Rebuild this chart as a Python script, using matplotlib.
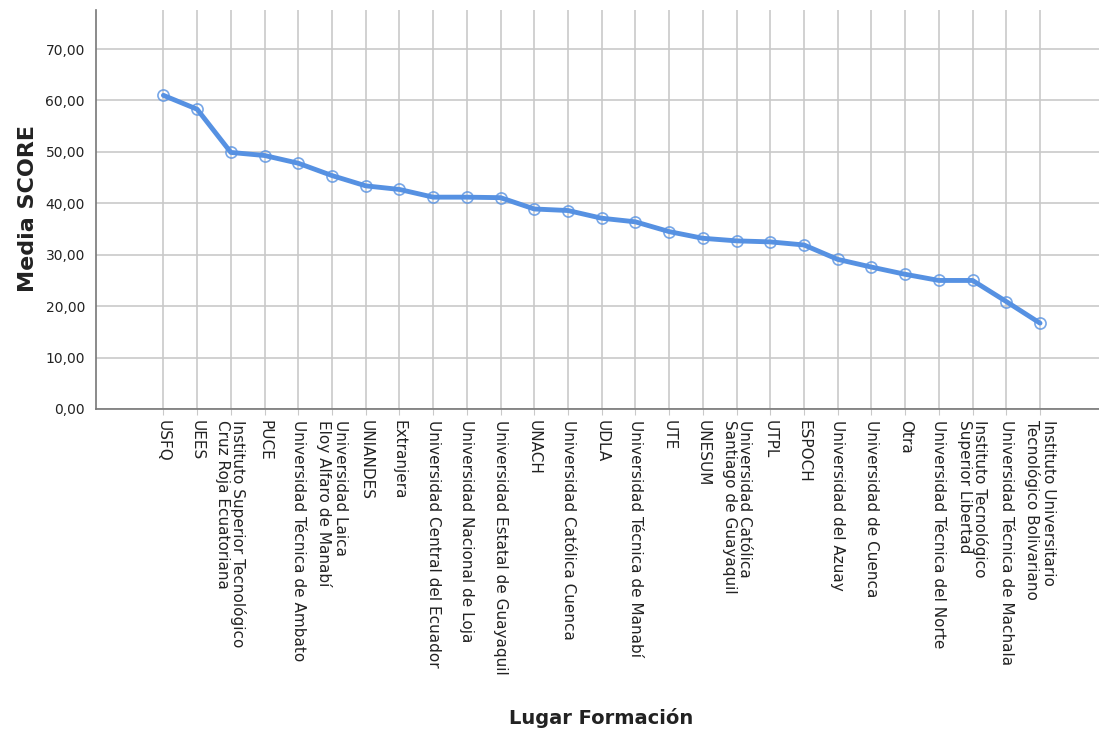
import matplotlib
matplotlib.use("Agg")
import matplotlib.pyplot as plt
from matplotlib.ticker import FuncFormatter

# mean SCORE per place of training
lugares = [
    "USFQ",
    "UEES",
    "Instituto Superior Tecnológico\nCruz Roja Ecuatoriana",
    "PUCE",
    "Universidad Técnica de Ambato",
    "Universidad Laica\nEloy Alfaro de Manabí",
    "UNIANDES",
    "Extranjera",
    "Universidad Central del Ecuador",
    "Universidad Nacional de Loja",
    "Universidad Estatal de Guayaquil",
    "UNACH",
    "Universidad Católica Cuenca",
    "UDLA",
    "Universidad Técnica de Manabí",
    "UTE",
    "UNESUM",
    "Universidad Católica\nSantiago de Guayaquil",
    "UTPL",
    "ESPOCH",
    "Universidad del Azuay",
    "Universidad de Cuenca",
    "Otra",
    "Universidad Técnica del Norte",
    "Instituto Tecnológico\nSuperior Libertad",
    "Universidad Técnica de Machala",
    "Instituto Universitario\nTecnológico Bolivariano",
]
media_score = [61.0, 58.3, 49.9, 49.3, 47.8, 45.4, 43.4, 42.7, 41.2, 41.2, 41.1,
               38.9, 38.6, 37.1, 36.4, 34.5, 33.2, 32.7, 32.5, 31.9, 29.1, 27.6,
               26.2, 25.0, 25.0, 20.9, 16.7]
y_ticks = [0, 10, 20, 30, 40, 50, 60, 70]

LINE = "#5691e2"
GRID = "#c9c9c9"
TXT = "#222222"

fig = plt.figure(figsize=(10.99, 7.34), dpi=100)
ax = fig.add_axes([96 / 1099, 325 / 734, 1 - 96 / 1099, 399 / 734])

x = list(range(len(lugares)))
ax.plot(x, media_score, color=LINE, lw=3.5, solid_capstyle="round", zorder=3)
ax.plot(x, media_score, "o", ms=8, mfc="none", mec=LINE, mew=1.2, alpha=0.8, zorder=4)

ax.set_xlim(-2, len(lugares) - 1 + 1.75)
ax.set_ylim(0, 77.6)
ax.set_yticks(y_ticks)
ax.yaxis.set_major_formatter(FuncFormatter(lambda v, _: f"{v:.2f}".replace(".", ",")))
ax.set_xticks(x)
ax.set_xticklabels(lugares, rotation=270, ha="center", va="top", multialignment="left",
                   fontsize=11, color=TXT, linespacing=1.0)
ax.tick_params(axis="y", length=0, pad=8, labelsize=10, labelcolor=TXT)
ax.tick_params(axis="x", length=4, color=GRID, pad=4)

ax.grid(True, color=GRID, lw=1.2, zorder=0)
ax.set_axisbelow(True)
for s in ("top", "right"):
    ax.spines[s].set_visible(False)
for s in ("left", "bottom"):
    ax.spines[s].set_color("#777777")
    ax.spines[s].set_linewidth(1.2)

fig.text(28 / 1099, 1 - 209 / 734, "Media SCORE", rotation=90, ha="center", va="center",
         fontsize=16, fontweight="bold", color=TXT)
fig.text(601 / 1099, 1 - 718 / 734, "Lugar Formación", ha="center", va="center",
         fontsize=14, fontweight="bold", color=TXT)

fig.savefig("out.png", dpi=100, facecolor="white")
